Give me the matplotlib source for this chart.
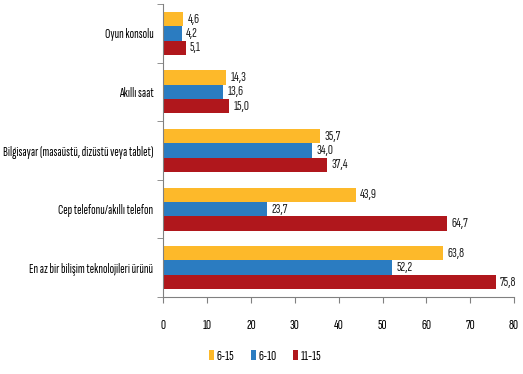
import numpy as np
import matplotlib.pyplot as plt

plt.rcParams['font.family'] = ['Sofia Sans Extra Condensed', 'DejaVu Sans']
plt.rcParams['font.weight'] = 'light'

categories = ['Oyun konsolu', 'Akıllı saat', 'Bilgisayar (masaüstü, dizüstü veya tablet)',
              'Cep telefonu/akıllı telefon', 'En az bir bilişim teknolojileri ürünü']
series_names = ['6-15', '6-10', '11-15']
v_6_15 = [4.6, 14.3, 35.7, 43.9, 63.8]
v_6_10 = [4.2, 13.6, 34.0, 23.7, 52.2]
v_11_15 = [5.1, 15.0, 37.4, 64.7, 75.8]
colors = ['#FDB92A', '#2B7CC1', '#B0171C']

fs = 9.6

fig = plt.figure(figsize=(5.23, 3.74), dpi=100)
ax = fig.add_axes([0.312, 0.206, 0.671, 0.783])

y = np.arange(len(categories))
h = 0.245
for i, (vals, name, c) in enumerate(zip([v_6_15, v_6_10, v_11_15], series_names, colors)):
    pos = y + (i - 1) * h
    ax.barh(pos, vals, height=h, color=c, label=name)
    for p, v in zip(pos, vals):
        ax.text(v + 1.0, p, f'{v:.1f}'.replace('.', ','), va='center', ha='left',
                fontsize=fs + 0.6, color='#222222')

ax.set_ylim(len(categories) - 0.5, -0.5)
ax.set_xlim(0, 80)
ax.set_xticks(range(0, 81, 10))
ax.set_yticks(y)
ax.set_yticklabels(categories, fontsize=fs)
ax.set_yticks(np.arange(-0.5, len(categories), 1), minor=True)
ax.tick_params(axis='y', which='major', length=0, pad=7)
ax.tick_params(axis='y', which='minor', length=4, color='#808080')
ax.tick_params(axis='x', length=4, color='#808080', labelsize=fs + 0.6, pad=12)
for s in ['top', 'right']:
    ax.spines[s].set_visible(False)
for s in ['left', 'bottom']:
    ax.spines[s].set_color('#808080')

fig.legend(loc='center', bbox_to_anchor=(0.507, 0.048), ncol=3, frameon=False,
           fontsize=fs + 0.6, handlelength=0.35, handleheight=0.7, handletextpad=0.15,
           columnspacing=1.2)

fig.savefig('out.png', dpi=100)
